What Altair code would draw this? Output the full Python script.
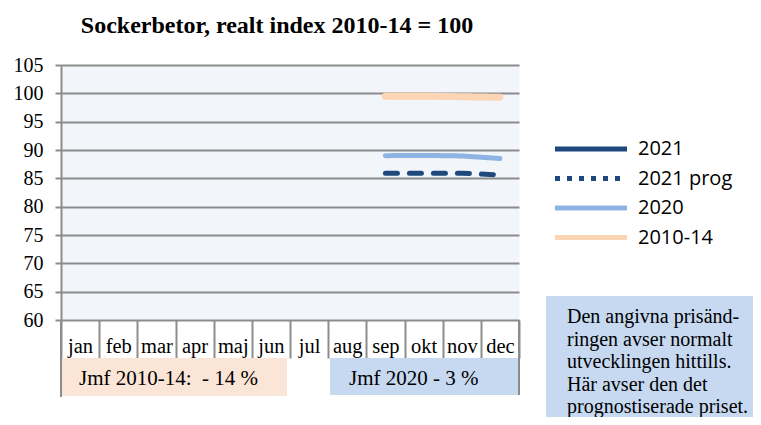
import altair as alt
import pandas as pd

# ---------------- data ----------------
months = ["jan", "feb", "mar", "apr", "maj", "jun", "jul", "aug", "sep", "okt", "nov", "dec"]
series_names = ["2021", "2021 prog", "2020", "2010-14"]
series_colors = ["#1F497D", "#1F497D", "#8DB4E2", "#FCD5B4"]
legend_dashes = [[1, 0], [5, 7], [1, 0], [1, 0]]

v2021 = [None] * 12
v2021_prog = [None] * 8 + [85.9, 85.9, 85.9, 85.6]
v2020 = [None] * 8 + [89.0, 89.05, 88.95, 88.5]
v2010_14 = [None] * 8 + [99.5, 99.5, 99.4, 99.3]

y_ticks = [60, 65, 70, 75, 80, 85, 90, 95, 100, 105]
chart_title = "Sockerbetor, realt index 2010-14 = 100"
cmp_2010_14 = "Jmf 2010-14: \u00a0- 14 %"
cmp_2020 = "Jmf 2020 - 3 %"
note_lines = [
    "Den angivna prisänd-",
    "ringen avser normalt",
    "utvecklingen hittills.",
    "Här avser den det",
    "prognostiserade priset.",
]

# ---------------- styling ----------------
SERIF = "Liberation Serif"
SANS = "Open Sans"
GRID = "#8C8C8C"
W, H = 458, 255

rows = []
for name, vals in zip(series_names, [v2021, v2021_prog, v2020, v2010_14]):
    for m, v in zip(months, vals):
        if v is not None:
            rows.append({"month": m, "series": name, "value": v})
df = pd.DataFrame(rows)

legend = alt.Legend(
    title=None,
    orient="none",
    legendX=520,
    legendY=74,
    padding=0,
    symbolType="M-6,0L6,0",
    symbolSize=144,
    symbolStrokeWidth=5,
    labelFont=SANS,
    labelFontSize=20,
    labelColor="black",
    labelOffset=37,
    rowPadding=9.5,
)

x_enc = alt.X(
    "month:N",
    sort=months,
    scale=alt.Scale(domain=months, paddingInner=0, paddingOuter=0),
    axis=alt.Axis(
        title=None,
        labelAngle=0,
        tickBand="extent",
        tickSize=38,
        tickWidth=2,
        tickColor=GRID,
        domain=False,
        grid=False,
        labelFont=SERIF,
        labelFontSize=20.5,
        labelColor="black",
        labelPadding=-6,
        labelBaseline="alphabetic",
    ),
)
y_enc = alt.Y(
    "value:Q",
    scale=alt.Scale(domain=[60, 105], nice=False, zero=False),
    axis=alt.Axis(
        title=None,
        values=y_ticks,
        grid=True,
        gridColor=GRID,
        gridWidth=2,
        domainColor=GRID,
        domainWidth=2,
        tickColor=GRID,
        tickWidth=2,
        tickSize=6,
        labelPadding=12,
        labelFont=SERIF,
        labelFontSize=20,
        labelColor="black",
    ),
)
color_enc = alt.Color(
    "series:N",
    scale=alt.Scale(domain=series_names, range=series_colors),
    legend=legend,
)
dash_enc = alt.StrokeDash(
    "series:N",
    scale=alt.Scale(domain=series_names, range=legend_dashes),
    legend=legend,
)

line_2020 = (
    alt.Chart(df[df["series"] == "2020"])
    .mark_line(strokeCap="round", strokeWidth=5)
    .encode(x=x_enc, y=y_enc, color=color_enc, strokeDash=dash_enc)
)
line_2010 = (
    alt.Chart(df[df["series"] == "2010-14"])
    .mark_line(strokeCap="round", strokeWidth=7)
    .encode(x=x_enc, y=y_enc, color=color_enc, strokeDash=dash_enc)
)
prog = (
    alt.Chart(df[df["series"] == "2021 prog"])
    .mark_line(strokeCap="round", strokeDash=[12, 12], strokeWidth=5)
    .encode(x=x_enc, y=y_enc, color=color_enc)
)

one = alt.Data(values=[{"k": 1}])

# comparison boxes under the month row
box_orange = alt.Chart(one).mark_rect(color="#FBE5D6").encode(
    x=alt.value(1), x2=alt.value(226), y=alt.value(293), y2=alt.value(331)
)
box_blue = alt.Chart(one).mark_rect(color="#C6D9F1").encode(
    x=alt.value(269), x2=alt.value(W), y=alt.value(293), y2=alt.value(330)
)
left_line = alt.Chart(one).mark_rule(color=GRID, strokeWidth=2).encode(
    x=alt.value(0), y=alt.value(255), y2=alt.value(332)
)
right_line = alt.Chart(one).mark_rule(color=GRID, strokeWidth=2).encode(
    x=alt.value(W), y=alt.value(255), y2=alt.value(330)
)
txt_orange = alt.Chart(alt.Data(values=[{"t": cmp_2010_14}])).mark_text(
    font=SERIF, fontSize=21, align="left", baseline="alphabetic", color="black"
).encode(text="t:N", x=alt.value(18), y=alt.value(320))
txt_blue = alt.Chart(alt.Data(values=[{"t": cmp_2020}])).mark_text(
    font=SERIF, fontSize=21, align="left", baseline="alphabetic", color="black"
).encode(text="t:N", x=alt.value(288), y=alt.value(320))

# note box on the right
note_box = alt.Chart(one).mark_rect(color="#C6D9F1").encode(
    x=alt.value(485), x2=alt.value(720), y=alt.value(231), y2=alt.value(380)
)
note_txt = alt.Chart(alt.Data(values=[{"t": note_lines}])).mark_text(
    font=SERIF, fontSize=20, align="left", baseline="alphabetic", color="black", lineHeight=22.5
).encode(text="t:N", x=alt.value(506), y=alt.value(258))

chart = (
    alt.layer(
        box_orange, box_blue, left_line, right_line, txt_orange, txt_blue,
        note_box, note_txt, line_2020, line_2010, prog,
    )
    .resolve_scale(color="shared", strokeDash="shared")
    .properties(
        width=W,
        height=H,
        title=alt.TitleParams(
            chart_title,
            font=SERIF,
            fontSize=24,
            fontWeight="bold",
            color="black",
            anchor="middle",
            dx=-13,
            offset=-2,
            baseline="alphabetic",
        ),
        autosize=alt.AutoSizeParams(type="none"),
        padding={"left": 53, "top": 57, "right": 234, "bottom": 97},
        background="white",
    )
    .configure_view(fill="#F2F5FA", stroke="transparent")
)

chart.save("out.html", embed_options={"renderer": "svg", "actions": False})
